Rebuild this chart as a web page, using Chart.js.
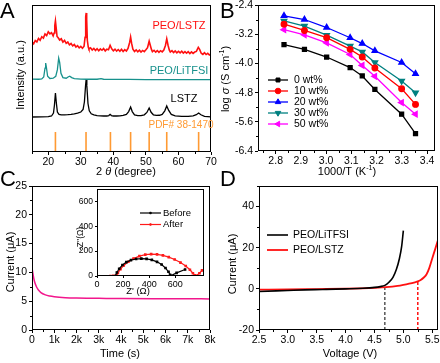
<!DOCTYPE html>
<html>
<head>
<meta charset="utf-8">
<title>PEO/LSTZ electrolyte characterization</title>
<script src="https://cdn.jsdelivr.net/npm/chart.js"></script>
<style>
    body { margin: 0; background: #fff; }
    #wrap { position: relative; width: 440px; height: 363px; }
    #wrap canvas { position: absolute; left: 0; top: 0; }
</style>
</head>
<body>
<div id="wrap">
    <canvas id="chartA" width="440" height="363"></canvas>
    <canvas id="chartB" width="440" height="363"></canvas>
    <canvas id="chartC" width="440" height="363"></canvas>
    <canvas id="chartD" width="440" height="363"></canvas>
    <canvas id="chartInset" width="440" height="363"></canvas>
</div>
<script>
// ---------- A: XRD (2theta, intensity a.u. with offsets) ----------
const xrdPeoLstz = [[15,75.0],[15.5,73.6],[16,75.8],[16.5,74.9],[17,77.2],[17.5,76.0],[18,78.4],[18.5,77.5],[19,80.3],[19.5,79.2],
    [20,81.8],[20.5,80.4],[21,81.2],[21.5,79.0],[21.8,81],[22.0,86],[22.2,89.2],[22.4,85],[22.7,78.6],[23,77.9],[23.5,76.2],
    [24,77.0],[24.5,74.8],[25,75.9],[25.5,73.9],[26,74.8],[26.5,72.9],[27,73.8],[27.5,72.2],[28,73.1],[28.5,71.4],[29,72.3],
    [29.5,70.8],[30,71.8],[30.5,70.6],[31,72.0],[31.3,78],[31.5,92],[31.65,94.6],[31.8,90],[32.0,76],[32.3,71.2],[32.5,70.0],
    [33,70.9],[33.5,69.4],[34,70.5],[34.5,69.0],[35,70.2],[35.5,68.9],[36,70.1],[36.5,69.2],[37,70.4],[37.5,68.8],[38,70.0],
    [38.5,69.6],[39,72.6],[39.5,70.2],[40,68.9],[40.5,70.0],[41,68.6],[41.5,69.7],[42,68.5],[42.5,69.9],[43,68.4],[43.5,69.6],
    [44,68.7],[44.5,70.5],[45,74.5],[45.3,78.2],[45.6,74],[46,70.0],[46.5,68.4],[47,69.5],[47.5,68.2],[48,69.3],[48.5,68.0],
    [49,69.1],[49.5,68.3],[50,69.6],[50.5,71.0],[51,75.4],[51.3,73],[51.7,69.8],[52,68.2],[52.5,69.2],[53,67.9],[53.5,69.0],
    [54,67.8],[54.5,68.9],[55,68.1],[55.5,69.4],[56,72.5],[56.4,77.0],[56.8,72.6],[57.2,69.3],[57.5,68.0],[58,68.9],[58.5,67.6],
    [59,68.7],[59.5,67.5],[60,68.5],[60.5,67.4],[61,68.6],[61.5,67.3],[62,68.3],[62.5,67.2],[63,68.2],[63.5,67.0],[64,68.1],
    [64.5,67.1],[65,68.0],[65.5,68.4],[66.1,71.2],[66.5,69.8],[67,67.2],[67.5,66.4],[68,67.6],[68.5,66.3],[69,67.1],[69.5,66.0],[70,66.8]];
const xrdPeoLitfsi = [[15,49.6],[17,49.5],[18,49.7],[18.6,51],[19.0,57],[19.2,60.5],[19.4,58],[19.8,51.5],[20.5,50.0],[21.5,50.2],
    [22.3,51.5],[22.8,56],[23.2,63.9],[23.5,61],[23.9,53.5],[24.5,50.6],[25.5,50.2],[26.2,51.2],[26.6,51.6],[27.2,50.6],[28,49.9],
    [30,49.6],[32,49.5],[35,49.5],[36.2,49.9],[37,49.5],[40,49.4],[45,49.4],[50,49.3],[55,49.3],[60,49.3],[65,49.3],[70,49.3]];
const xrdLstz = [[15,23.8],[18,23.9],[20,24.1],[21,24.5],[21.6,26.5],[21.9,32],[22.2,40.1],[22.5,33],[22.8,27.2],[23.3,25.6],[24,25.3],
    [25,25.3],[26,25.4],[27,25.6],[28,25.9],[29,26.4],[30,27.2],[30.7,29],[31.1,34],[31.45,45],[31.65,49.7],[31.85,45],[32.2,33],
    [32.6,28],[33.2,26.0],[34,25.2],[35,24.8],[36,24.6],[37,24.5],[38,24.5],[38.6,24.8],[39.0,25.6],[39.4,24.8],[40,24.5],[41,24.5],
    [42,24.6],[43,24.9],[44,25.6],[44.7,27.5],[45.3,30.6],[45.8,27.5],[46.5,25.3],[47.5,24.8],[48.5,24.8],[49.5,25.3],[50.3,26.9],
    [51,29.9],[51.6,27.0],[52.3,25.3],[53.2,24.9],[54.2,25.0],[55,25.6],[55.8,28.0],[56.4,31.3],[57,28.3],[57.8,25.6],[59,24.6],
    [61,24.3],[63,24.3],[64.5,24.6],[65.5,25.4],[66.2,26.5],[66.9,25.3],[68,24.2],[70,23.9]];
const pdfPeaks = [22.2, 31.6, 39.1, 45.3, 51.0, 56.4, 66.2];
const pdfHeight = 13.6;
const thetaTicks = [20, 30, 40, 50, 60, 70];

// ---------- B: Arrhenius plot ----------
const invT = [2.833, 2.914, 3.002, 3.095, 3.143, 3.193, 3.299, 3.354];
const loadings = ['0 wt%', '10 wt%', '20 wt%', '30 wt%', '50 wt%'];
const logSigma0 = [-3.48, -3.61, -3.82, -4.11, -4.34, -4.71, -5.39, -5.92];
const logSigma10 = [-2.92, -3.09, -3.29, -3.61, -3.82, -4.12, -4.69, -5.12];
const logSigma20 = [-2.69, -2.79, -3.01, -3.29, -3.45, -3.65, -3.97, -4.28];
const logSigma30 = [-2.83, -2.97, -3.22, -3.52, -3.68, -3.97, -4.48, -4.80];
const logSigma50 = [-3.07, -3.21, -3.43, -3.75, -4.05, -4.35, -5.07, -5.39];
const invTTicks = [2.8, 2.9, 3.0, 3.1, 3.2, 3.3, 3.4];
const logSigmaTicks = [-6.4, -5.6, -4.8, -4.0, -3.2, -2.4];

// ---------- C: polarization current + impedance inset ----------
const timeS = [0, 50, 100, 200, 300, 400, 600, 800, 1000, 1500, 2000, 3000, 4000, 6000, 8000];
const currentUA = [10.8, 9.6, 8.6, 7.5, 6.9, 6.5, 6.1, 5.9, 5.78, 5.62, 5.55, 5.5, 5.45, 5.42, 5.4];
const timeTicks = [0, 1000, 2000, 3000, 4000, 5000, 6000, 7000, 8000];
const currentTicks = [0, 5, 10, 15, 20, 25];
const zReBefore = [140, 152, 170, 195, 225, 260, 300, 340, 380, 420, 460, 495, 525, 548, 560, 565, 610, 675];
const zImBefore = [0, 28, 58, 88, 112, 128, 137, 140, 138, 130, 114, 92, 64, 34, 10, 2, 25, 52];
const zReAfter = [103, 125, 150, 160, 180, 205, 240, 280, 325, 370, 415, 460, 505, 550, 595, 640, 680, 712, 735, 750, 760, 785, 805];
const zImAfter = [0, 1, 4, 25, 55, 85, 115, 140, 160, 172, 176, 174, 166, 152, 133, 108, 80, 50, 22, 6, 2, 22, 45];
const zTicks = [0, 200, 400, 600];

// ---------- D: linear sweep voltammetry ----------
const voltLitfsi = [2.5, 2.8, 3.0, 3.3, 3.6, 4.0, 4.3, 4.5, 4.6, 4.68, 4.75, 4.82, 4.88, 4.93, 4.97, 5.0];
const currLitfsi = [-1.3, -1.0, -0.8, -0.5, -0.3, 0.0, 0.3, 0.7, 1.1, 1.7, 3.2, 5.6, 9.5, 14.5, 20.5, 28.3];
const voltLstz = [2.5, 3.0, 3.5, 4.0, 4.5, 4.7, 4.9, 5.0, 5.1, 5.2, 5.25, 5.3, 5.35, 5.4, 5.45, 5.5, 5.55, 5.6];
const currLstz = [-0.4, -0.3, -0.1, 0.1, 0.5, 0.8, 1.4, 1.9, 2.5, 3.2, 3.6, 4.3, 5.4, 7.0, 10.2, 14.8, 19.2, 23.8];
const onsetV = [4.68, 5.25];
const onsetI = [1.7, 3.6];
const voltTicks = [2.5, 3.0, 3.5, 4.0, 4.5, 5.0, 5.5];
const ivTicks = [-20, 0, 20, 40];

// ---------- helpers ----------
const W = 440, H = 363;
const FONT = 'Arial, "Liberation Sans", sans-serif';
Chart.defaults.font.family = FONT;
Chart.defaults.font.size = 10.5;
Chart.defaults.color = '#000';
Chart.defaults.animation = false;
Chart.defaults.responsive = false;
Chart.defaults.events = [];
Chart.defaults.plugins.legend.display = false;
Chart.defaults.plugins.tooltip.enabled = false;
Chart.defaults.elements.point.radius = 0;
Chart.defaults.elements.line.tension = 0;

const pts = (xs, ys) => xs.map((x, i) => ({ x, y: ys[i] }));
const pairs = arr => arr.map(([x, y]) => ({ x, y }));

function padFor(area, yW, xH) {
    return { left: area.l - yW, top: area.t, right: W - area.r, bottom: H - area.b - xH };
}

function axis(o) {
    return {
        type: 'linear', min: o.min, max: o.max,
        afterBuildTicks: s => { s.ticks = (o.ticks || []).map(v => ({ value: v })); },
        afterFit: s => {
            if (s.isHorizontal()) s.height = o.size; else s.width = o.size;
            s.paddingTop = s.paddingBottom = s.paddingLeft = s.paddingRight = 0;
        },
        grid: { display: o.marks !== false, drawOnChartArea: false, drawTicks: true, tickLength: o.tl || 3, tickColor: '#000', tickWidth: 1 },
        border: { display: false },
        ticks: {
            display: o.labels !== false, padding: o.pad == null ? 2 : o.pad, maxRotation: 0, minRotation: 0, autoSkip: false,
            callback: o.fmt || (v => v), font: { size: o.fs || 10.5 }
        }
    };
}

// box around the plot area + short minor ticks
const framePlugin = {
    id: 'frame',
    afterDraw(chart, args, opts) {
        const { ctx, chartArea: a } = chart;
        ctx.save();
        ctx.strokeStyle = '#000';
        ctx.lineWidth = 1;
        ctx.strokeRect(Math.round(a.left) + 0.5, Math.round(a.top) + 0.5, Math.round(a.right - a.left) - 1, Math.round(a.bottom - a.top) - 1);
        const minor = (scale, step, horiz) => {
            if (!step) return;
            const majors = scale.ticks.map(t => t.value);
            for (let v = Math.ceil(scale.min / step) * step; v <= scale.max + 1e-9; v += step) {
                if (majors.some(m => Math.abs(m - v) < step / 10)) continue;
                const p = Math.round(scale.getPixelForValue(v)) + 0.5;
                ctx.beginPath();
                if (horiz) { ctx.moveTo(p, Math.round(a.bottom)); ctx.lineTo(p, Math.round(a.bottom) + 2); }
                else { ctx.moveTo(Math.round(a.left), p); ctx.lineTo(Math.round(a.left) - 2, p); }
                ctx.stroke();
            }
        };
        minor(chart.scales.x, opts.minorX, true);
        minor(chart.scales.y, opts.minorY, false);
        ctx.restore();
    }
};

// free text: labels, axis titles, panel letters
const notesPlugin = {
    id: 'notes',
    afterDraw(chart, args, opts) {
        const ctx = chart.ctx;
        (opts.items || []).forEach(n => {
            const size = n.size || 11;
            const parts = n.parts || [{ t: n.text }];
            const fontOf = p => `${p.italic ? 'italic ' : ''}${p.sup ? size * 0.65 : size}px ${FONT}`;
            ctx.save();
            ctx.translate(n.x, n.y);
            if (n.rot) ctx.rotate(n.rot * Math.PI / 180);
            ctx.fillStyle = n.color || '#000';
            ctx.textBaseline = n.baseline || 'middle';
            ctx.textAlign = 'left';
            let w = 0;
            parts.forEach(p => { ctx.font = fontOf(p); w += ctx.measureText(p.t).width; });
            let x = n.align === 'left' ? 0 : n.align === 'right' ? -w : -w / 2;
            parts.forEach(p => {
                ctx.font = fontOf(p);
                ctx.fillText(p.t, x, p.sup ? -size * 0.35 : 0);
                x += ctx.measureText(p.t).width;
            });
            ctx.restore();
        });
    }
};

// legend drawn inside the plot: line sample + marker + label
const keyPlugin = {
    id: 'key',
    afterDraw(chart, args, opts) {
        if (!opts.rows) return;
        const ctx = chart.ctx;
        opts.rows.forEach(r => {
            const ds = chart.data.datasets[r.ds];
            ctx.save();
            ctx.strokeStyle = ds.borderColor;
            ctx.fillStyle = ds.borderColor;
            ctx.lineWidth = ds.borderWidth;
            ctx.beginPath();
            ctx.moveTo(opts.x1, r.y);
            ctx.lineTo(opts.x2, r.y);
            ctx.stroke();
            if (ds.pointRadius) {
                ctx.lineWidth = 1;
                Chart.helpers.drawPoint(ctx, { pointStyle: ds.pointStyle, rotation: ds.pointRotation || 0, radius: ds.pointRadius, borderWidth: 1 },
                    (opts.x1 + opts.x2) / 2, r.y);
            }
            ctx.fillStyle = '#000';
            ctx.font = `${opts.size || 10.5}px ${FONT}`;
            ctx.textBaseline = 'middle';
            ctx.fillText(ds.label, opts.tx, r.y);
            ctx.restore();
        });
    }
};

Chart.register(framePlugin, notesPlugin, keyPlugin);

// ---------- A ----------
const areaA = { l: 32, t: 5, r: 211, b: 152 };
const pdfLines = [];
pdfPeaks.forEach(p => { pdfLines.push({ x: p, y: 0 }, { x: p, y: pdfHeight }, { x: p, y: null }); });

new Chart(document.getElementById('chartA'), {
    type: 'line',
    data: {
        datasets: [
            { label: 'PEO/LSTZ', data: pairs(xrdPeoLstz), borderColor: '#ff1010', borderWidth: 1.6 },
            { label: 'PEO/LiTFSI', data: pairs(xrdPeoLitfsi), borderColor: '#17918c', borderWidth: 1.3 },
            { label: 'LSTZ', data: pairs(xrdLstz), borderColor: '#000', borderWidth: 1.3 },
            { label: 'PDF# 38-1470', data: pdfLines, borderColor: '#ff9a33', borderWidth: 1.6, spanGaps: false }
        ]
    },
    options: {
        layout: { padding: padFor(areaA, 32, 28) },
        scales: {
            x: axis({ min: 15, max: 70, ticks: thetaTicks, size: 28, pad: 1 }),
            y: axis({ min: 0, max: 100, ticks: [], size: 32, labels: false, marks: false })
        },
        plugins: {
            frame: { minorX: 5 },
            notes: { items: [
                { text: 'A', x: 0, y: 18, size: 22, baseline: 'alphabetic', align: 'left' },
                { text: 'PEO/LSTZ', x: 179, y: 26, color: '#ff1010' },
                { text: 'PEO/LiTFSI', x: 179, y: 71, color: '#17918c' },
                { text: 'LSTZ', x: 184, y: 99 },
                { text: 'PDF# 38-1470', x: 181, y: 125, size: 10, color: '#ff9a33' },
                { text: 'Intensity (a.u.)', x: 21, y: 75, rot: -90 },
                { parts: [{ t: '2 ' }, { t: 'θ', italic: true }, { t: ' (degree)' }], x: 126, y: 172 }
            ] }
        }
    }
});

// ---------- B ----------
const areaB = { l: 258, t: 5, r: 437, b: 151 };
new Chart(document.getElementById('chartB'), {
    type: 'line',
    data: {
        datasets: [
            { label: loadings[0], data: pts(invT, logSigma0), borderColor: '#000', backgroundColor: '#000', borderWidth: 1.3, pointStyle: 'rect', pointRadius: 2.8 },
            { label: loadings[1], data: pts(invT, logSigma10), borderColor: '#ff0000', backgroundColor: '#ff0000', borderWidth: 1.3, pointStyle: 'circle', pointRadius: 2.8 },
            { label: loadings[2], data: pts(invT, logSigma20), borderColor: '#0000ff', backgroundColor: '#0000ff', borderWidth: 1.3, pointStyle: 'triangle', pointRadius: 3.2 },
            { label: loadings[3], data: pts(invT, logSigma30), borderColor: '#008080', backgroundColor: '#008080', borderWidth: 1.3, pointStyle: 'triangle', pointRotation: 180, pointRadius: 3.2 },
            { label: loadings[4], data: pts(invT, logSigma50), borderColor: '#ff00ff', backgroundColor: '#ff00ff', borderWidth: 1.3, pointStyle: 'triangle', pointRotation: 270, pointRadius: 3.2 }
        ]
    },
    options: {
        layout: { padding: padFor(areaB, 38, 29) },
        scales: {
            x: axis({ min: 2.73, max: 3.43, ticks: invTTicks, size: 29, pad: 1, fmt: v => v.toFixed(1) }),
            y: axis({ min: -6.4, max: -2.4, ticks: logSigmaTicks, size: 38, fmt: v => v.toFixed(1) })
        },
        plugins: {
            frame: { minorX: 0.05, minorY: 0.4 },
            key: { x1: 268, x2: 288, tx: 294, rows: [
                { ds: 0, y: 80 }, { ds: 1, y: 91 }, { ds: 2, y: 102 }, { ds: 3, y: 113 }, { ds: 4, y: 124 }
            ] },
            notes: { items: [
                { text: 'B', x: 220, y: 18, size: 22, baseline: 'alphabetic', align: 'left' },
                { parts: [{ t: 'log ' }, { t: 'σ', italic: true }, { t: ' (S cm' }, { t: '-1', sup: true }, { t: ')' }], x: 226, y: 79, rot: -90 },
                { parts: [{ t: '1000/T (K' }, { t: '-1', sup: true }, { t: ')' }], x: 347, y: 172 }
            ] }
        }
    }
});

// ---------- C ----------
const areaC = { l: 32, t: 186, r: 210, b: 330 };
new Chart(document.getElementById('chartC'), {
    type: 'line',
    data: {
        datasets: [
            { label: 'current', data: pts(timeS, currentUA), borderColor: '#f2168c', borderWidth: 1.5, cubicInterpolationMode: 'monotone' }
        ]
    },
    options: {
        layout: { padding: padFor(areaC, 32, 33) },
        scales: {
            x: axis({ min: 0, max: 8000, ticks: timeTicks, size: 33, pad: 1, fmt: v => v === 0 ? '0' : (v / 1000) + 'k' }),
            y: axis({ min: 0, max: 25, ticks: currentTicks, size: 32 })
        },
        plugins: {
            frame: { minorX: 500, minorY: 2.5 },
            notes: { items: [
                { text: 'C', x: 0, y: 186, size: 22, baseline: 'alphabetic', align: 'left' },
                { text: 'Current (μA)', x: 11, y: 262, rot: -90 },
                { text: 'Time (s)', x: 120, y: 354 }
            ] }
        }
    }
});

// ---------- C inset ----------
const areaIn = { l: 97, t: 189, r: 204, b: 276 };
new Chart(document.getElementById('chartInset'), {
    type: 'line',
    data: {
        datasets: [
            { label: 'Before', data: pts(zReBefore, zImBefore), borderColor: '#000', backgroundColor: '#000', borderWidth: 1.2, pointStyle: 'rect', pointRadius: 1 },
            { label: 'After', data: pts(zReAfter, zImAfter), borderColor: '#ff1a1a', backgroundColor: '#ff1a1a', borderWidth: 1.2, pointStyle: 'rect', pointRadius: 1 }
        ]
    },
    options: {
        layout: { padding: padFor(areaIn, 21, 23) },
        scales: {
            x: axis({ min: 0, max: 820, ticks: zTicks, size: 23, pad: 1, fs: 9, tl: 2 }),
            y: axis({ min: 0, max: 700, ticks: zTicks, size: 21, fs: 8.5, tl: 2, pad: 2 })
        },
        plugins: {
            frame: {},
            key: { x1: 140, x2: 161, tx: 163, size: 9.5, rows: [{ ds: 0, y: 213 }, { ds: 1, y: 224.5 }] },
            notes: { items: [
                { text: "-Z''(Ω)", x: 81, y: 238.5, rot: -90, size: 8.5 },
                { text: "Z' (Ω)", x: 138, y: 291, size: 9.5 }
            ] }
        }
    }
});

// ---------- D ----------
const areaD = { l: 259, t: 186, r: 438, b: 330 };
new Chart(document.getElementById('chartD'), {
    type: 'line',
    data: {
        datasets: [
            { label: 'PEO/LiTFSI', data: pts(voltLitfsi, currLitfsi), borderColor: '#000', borderWidth: 1.6, cubicInterpolationMode: 'monotone' },
            { label: 'PEO/LSTZ', data: pts(voltLstz, currLstz), borderColor: '#ff1010', borderWidth: 1.8, cubicInterpolationMode: 'monotone' },
            { label: 'onset LiTFSI', data: [{ x: onsetV[0], y: -20 }, { x: onsetV[0], y: onsetI[0] }], borderColor: '#000', borderWidth: 1, borderDash: [3, 2] },
            { label: 'onset LSTZ', data: [{ x: onsetV[1], y: -20 }, { x: onsetV[1], y: onsetI[1] }], borderColor: '#ff1010', borderWidth: 1.5, borderDash: [3, 2] }
        ]
    },
    options: {
        layout: { padding: padFor(areaD, 39, 33) },
        scales: {
            x: axis({ min: 2.5, max: 5.6, ticks: voltTicks, size: 33, pad: 1, fmt: v => v.toFixed(1) }),
            y: axis({ min: -20, max: 50, ticks: ivTicks, size: 39 })
        },
        plugins: {
            frame: { minorX: 0.25, minorY: 10 },
            key: { x1: 267, x2: 288, tx: 293, rows: [{ ds: 0, y: 235 }, { ds: 1, y: 250 }] },
            notes: { items: [
                { text: 'D', x: 220, y: 186, size: 22, baseline: 'alphabetic', align: 'left' },
                { text: 'Current (μA)', x: 233, y: 264, rot: -90 },
                { text: 'Voltage (V)', x: 350, y: 354 }
            ] }
        }
    }
});
</script>
</body>
</html>
